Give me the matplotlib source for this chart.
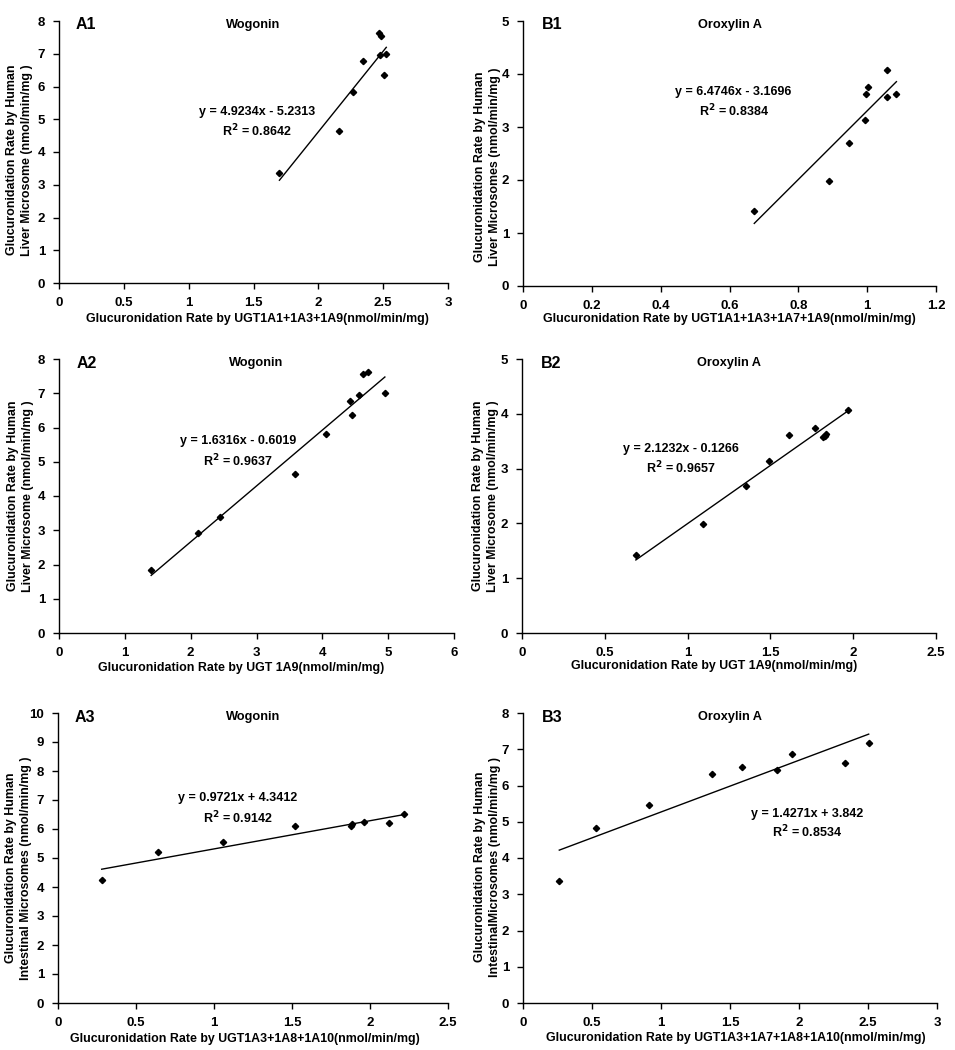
import numpy as np
import matplotlib.pyplot as plt
from matplotlib.ticker import MultipleLocator, FuncFormatter

plt.rcParams['font.family'] = ['Liberation Sans', 'DejaVu Sans']
plt.rcParams['font.weight'] = 'bold'

# A1 - Wogonin, UGT1A1+1A3+1A9 vs HLM
a1_x = [1.70, 2.157, 2.27, 2.345, 2.468, 2.486, 2.473, 2.524, 2.506]
a1_y = [3.37, 4.64, 5.82, 6.79, 7.62, 7.55, 6.95, 6.99, 6.34]
a1_fit = (4.9234, -5.2313, 0.8642)

# B1 - Oroxylin A, UGT1A1+1A3+1A7+1A9 vs HLM
b1_x = [0.672, 0.888, 0.947, 0.994, 0.996, 1.003, 1.058, 1.058, 1.085]
b1_y = [1.42, 1.98, 2.69, 3.13, 3.62, 3.75, 4.08, 3.57, 3.63]
b1_fit = (6.4746, -3.1696, 0.8384)

# A2 - Wogonin, UGT1A9 vs HLM
a2_x = [1.40, 2.11, 2.44, 3.59, 4.05, 4.42, 4.455, 4.56, 4.62, 4.70, 4.95]
a2_y = [1.85, 2.93, 3.39, 4.65, 5.81, 6.78, 6.36, 6.95, 7.56, 7.63, 7.00]
a2_fit = (1.6316, -0.6019, 0.9637)

# B2 - Oroxylin A, UGT1A9 vs HLM
b2_x = [0.6875, 1.095, 1.353, 1.49, 1.615, 1.772, 1.818, 1.827, 1.833, 1.968]
b2_y = [1.43, 1.985, 2.686, 3.13, 3.62, 3.75, 3.57, 3.60, 3.63, 4.07]
b2_fit = (2.1232, -0.1266, 0.9657)

# A3 - Wogonin, UGT1A3+1A8+1A10 vs HIM
a3_x = [0.28, 0.643, 1.056, 1.521, 1.88, 1.887, 1.959, 2.124, 2.218]
a3_y = [4.25, 5.21, 5.55, 6.09, 6.11, 6.18, 6.24, 6.21, 6.51]
a3_fit = (0.9721, 4.3412, 0.9142)

# B3 - Oroxylin A, UGT1A3+1A7+1A8+1A10 vs HIM
b3_x = [0.263, 0.53, 0.916, 1.372, 1.584, 1.837, 1.951, 2.334, 2.505]
b3_y = [3.36, 4.83, 5.45, 6.31, 6.50, 6.42, 6.86, 6.63, 7.18]
b3_fit = (1.4271, 3.842, 0.8534)

eq_a1 = 'y = 4.9234x - 5.2313'
eq_b1 = 'y = 6.4746x - 3.1696'
eq_a2 = 'y = 1.6316x - 0.6019'
eq_b2 = 'y = 2.1232x - 0.1266'
eq_a3 = 'y = 0.9721x + 4.3412'
eq_b3 = 'y = 1.4271x + 3.842'

fig = plt.figure(figsize=(9.55, 10.5), dpi=100)

W, H = 955.0, 1050.0

def px_axes(l, t, r, b):
    return [l / W, 1 - b / H, (r - l) / W, (b - t) / H]

panels = [
    # tag, title, x, y, fit, eq, box, xmax, xstep, ymax, xlabel, ylabel, eqpos, ylabpos, xlabpos
    ('A1', 'Wogonin', a1_x, a1_y, a1_fit, eq_a1, (59, 21, 448, 283), 3, 0.5, 8,
     'Glucuronidation Rate by UGT1A1+1A3+1A9(nmol/min/mg)',
     'Glucuronidation Rate by Human\nLiver Microsome (nmol/min/mg )',
     (1.527, 5.22, 4.64), (-0.067, 0.47), (0.51, -0.115)),
    ('B1', 'Oroxylin A', b1_x, b1_y, b1_fit, eq_b1, (523, 21, 936, 286), 1.2, 0.2, 5,
     'Glucuronidation Rate by UGT1A1+1A3+1A7+1A9(nmol/min/mg)',
     'Glucuronidation Rate by Human\nLiver Microsomes (nmol/min/mg )',
     (0.612, 3.66, 3.30), (-0.053, 0.45), (0.50, -0.102)),
    ('A2', 'Wogonin', a2_x, a2_y, a2_fit, eq_a2, (59, 359, 454, 633), 6, 1, 8,
     'Glucuronidation Rate by UGT 1A9(nmol/min/mg)',
     'Glucuronidation Rate by Human\nLiver Microsome (nmol/min/mg )',
     (2.72, 5.61, 5.03), (-0.063, 0.50), (0.46, -0.106)),
    ('B2', 'Oroxylin A', b2_x, b2_y, b2_fit, eq_b2, (522, 359, 936, 633), 2.5, 0.5, 5,
     'Glucuronidation Rate by UGT 1A9(nmol/min/mg)',
     'Glucuronidation Rate by Human\nLiver Microsome (nmol/min/mg )',
     (0.96, 3.36, 3.02), (-0.056, 0.50), (0.465, -0.099)),
    ('A3', 'Wogonin', a3_x, a3_y, a3_fit, eq_a3, (58, 713, 448, 1003), 2.5, 0.5, 10,
     'Glucuronidation Rate by UGT1A3+1A8+1A10(nmol/min/mg)',
     'Glucuronidation Rate by Human\nIntestinal Microsomes (nmol/min/mg )',
     (1.154, 7.07, 6.39), (-0.067, 0.465), (0.479, -0.103)),
    ('B3', 'Oroxylin A', b3_x, b3_y, b3_fit, eq_b3, (523, 713, 937, 1003), 3, 0.5, 8,
     'Glucuronidation Rate by UGT1A3+1A7+1A8+1A10(nmol/min/mg)',
     'Glucuronidation Rate by Human\nIntestinalMicrosomes (nmol/min/mg )',
     (2.058, 5.21, 4.72), (-0.053, 0.47), (0.514, -0.10)),
]

fmt = FuncFormatter(lambda v, p: f'{v:g}')

for (tag, title, xs, ys, fit, eq, box, xmax, xstep, ymax,
     xlabel, ylabel, eqpos, ylabpos, xlabpos) in panels:
    ax = fig.add_axes(px_axes(*box))
    xs = np.array(xs)
    ys = np.array(ys)
    ax.plot(xs, ys, 'D', color='black', markersize=3.2, zorder=3)
    slope, icpt, r2 = fit
    lx = np.array([xs.min(), xs.max()])
    ax.plot(lx, slope * lx + icpt, color='black', lw=1.0)

    ax.set_xlim(0, xmax)
    ax.set_ylim(0, ymax)
    ax.xaxis.set_major_locator(MultipleLocator(xstep))
    ax.yaxis.set_major_locator(MultipleLocator(1))
    ax.xaxis.set_major_formatter(fmt)
    ax.yaxis.set_major_formatter(fmt)
    for s in ['top', 'right']:
        ax.spines[s].set_visible(False)
    for s in ['left', 'bottom']:
        ax.spines[s].set_linewidth(1.0)
    ax.tick_params(axis='x', direction='out', length=4, width=1, pad=6, labelsize=9.5)
    ax.tick_params(axis='y', direction='out', length=4, width=1, pad=6, labelsize=9.5)
    for lab in ax.get_xticklabels() + ax.get_yticklabels():
        lab.set_fontweight('bold')

    ax.set_xlabel(xlabel, fontsize=8.9, fontweight='bold')
    ax.set_ylabel(ylabel, fontsize=8.9, fontweight='bold', linespacing=1.3)
    ax.xaxis.set_label_coords(*xlabpos)
    ax.yaxis.set_label_coords(*ylabpos)

    ax.text(0.07, 0.985, tag, transform=ax.transAxes, fontsize=11.5,
            fontweight='bold', ha='center', va='center')
    ax.text(0.5, 0.985, title, transform=ax.transAxes, fontsize=9.2,
            fontweight='bold', ha='center', va='center')
    ex, ey, ry = eqpos
    ax.text(ex, ey, eq, fontsize=9, fontweight='bold', ha='center', va='center')
    ax.text(ex, ry, f'R$^\\mathbf{{2}}$ = {r2:.4f}', fontsize=9, fontweight='bold',
            ha='center', va='center')

fig.savefig('out.png', dpi=100)
